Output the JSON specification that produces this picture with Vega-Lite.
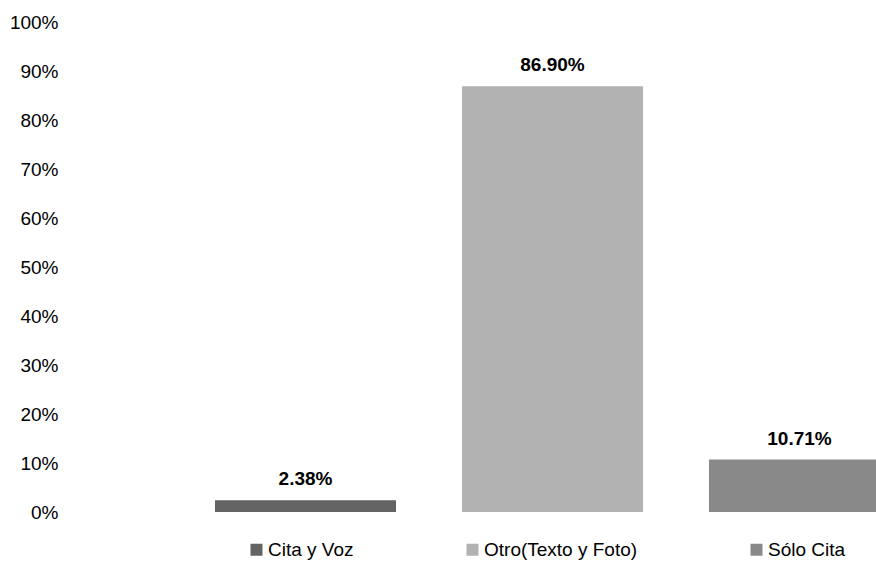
{
  "$schema": "https://vega.github.io/schema/vega-lite/v6.json",
  "autosize": {"type": "none"},
  "padding": {"left": 182, "top": 22, "right": 0, "bottom": 50},
  "width": 694,
  "height": 490,
  "background": "white",
  "config": {
    "view": {"stroke": null},
    "font": "Liberation Sans"
  },
  "data": {
    "values": [
      {"categoria": "Cita y Voz", "valor": 0.0238, "etiqueta": "2.38%"},
      {"categoria": "Otro(Texto y Foto)", "valor": 0.869, "etiqueta": "86.90%"},
      {"categoria": "Sólo Cita", "valor": 0.1071, "etiqueta": "10.71%"}
    ]
  },
  "encoding": {
    "x": {
      "field": "categoria",
      "type": "nominal",
      "sort": null,
      "scale": {"range": [0, 741], "paddingInner": 0.267, "paddingOuter": 0.1335},
      "axis": null
    },
    "y": {
      "field": "valor",
      "type": "quantitative",
      "scale": {"domain": [0, 1], "nice": false},
      "axis": {
        "format": ".0%",
        "values": [0, 0.1, 0.2, 0.3, 0.4, 0.5, 0.6, 0.7, 0.8, 0.9, 1],
        "grid": false,
        "domain": false,
        "ticks": false,
        "labelPadding": 124,
        "labelFont": "Liberation Sans",
        "labelFontSize": 19,
        "labelColor": "#000000",
        "title": null
      }
    }
  },
  "layer": [
    {
      "mark": {"type": "bar", "clip": true},
      "encoding": {
        "color": {
          "field": "categoria",
          "type": "nominal",
          "scale": {
            "domain": ["Cita y Voz", "Otro(Texto y Foto)", "Sólo Cita"],
            "range": ["#646464", "#b2b2b2", "#898989"]
          },
          "legend": {
            "orient": "none",
            "legendX": 65,
            "legendY": 518,
            "direction": "horizontal",
            "title": null,
            "symbolType": "square",
            "symbolSize": 144,
            "symbolStrokeWidth": 0,
            "symbolOpacity": 1,
            "labelFont": "Liberation Sans",
            "labelFontSize": 19,
            "labelColor": "#000000",
            "labelOffset": 2,
            "labelLimit": 300,
            "columnPadding": 109
          }
        }
      }
    },
    {
      "mark": {
        "type": "text",
        "font": "Liberation Sans",
        "fontSize": 19,
        "fontWeight": "bold",
        "color": "#000000",
        "baseline": "alphabetic",
        "dy": -15,
        "clip": true
      },
      "encoding": {
        "text": {"field": "etiqueta"}
      }
    }
  ]
}
